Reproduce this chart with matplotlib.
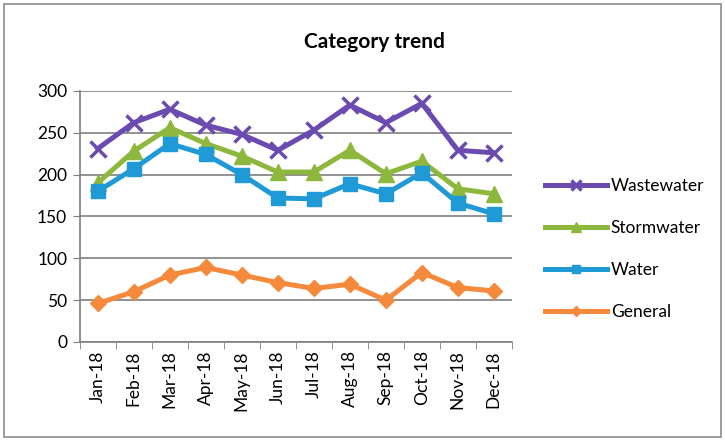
import numpy as np
import matplotlib.pyplot as plt
from matplotlib.patches import Rectangle

plt.rcParams['font.family'] = ['Lato', 'DejaVu Sans']

months = ["Jan-18", "Feb-18", "Mar-18", "Apr-18", "May-18", "Jun-18",
          "Jul-18", "Aug-18", "Sep-18", "Oct-18", "Nov-18", "Dec-18"]
wastewater = [231, 262, 278, 259, 248, 229, 253, 283, 262, 285, 229, 226]
stormwater = [190, 228, 256, 237, 222, 203, 203, 229, 201, 216, 183, 177]
water = [180, 207, 237, 224, 200, 172, 171, 189, 177, 202, 166, 153]
general = [46, 60, 80, 89, 80, 71, 64, 69, 50, 83, 65, 61]

series = [
    ("Wastewater", wastewater, "#6B4BAF", "x", 11),
    ("Stormwater", stormwater, "#8DB83D", "^", 11),
    ("Water", water, "#1F9AD7", "s", 10),
    ("General", general, "#F58A3C", "D", 8),
]

fig = plt.figure(figsize=(7.25, 4.41), dpi=100)
ax = fig.add_axes([0.110, 0.2245, 0.596, 0.5695])

x = np.arange(len(months)) + 0.5
for name, vals, color, marker, ms in series:
    ax.plot(x, vals, color=color, lw=3.6, marker=marker, ms=ms,
            mew=2.5 if marker == "x" else 1, mec=color, mfc=color, label=name)

ax.set_xlim(0, 12)
ax.set_ylim(0, 300)
ax.set_yticks(range(0, 301, 50))
ax.yaxis.grid(True, color="#7f7f7f", lw=1.2)
ax.set_axisbelow(True)

# labels at category centres, tick marks on the boundaries
ax.set_xticks(x)
ax.set_xticklabels(months, rotation=90, fontsize=12.5)
ax.set_xticks(np.arange(0, 13), minor=True)
ax.tick_params(axis="x", which="major", length=0, pad=6)
ax.tick_params(axis="x", which="minor", length=5, color="#7f7f7f")
ax.tick_params(axis="y", length=5, color="#7f7f7f", labelsize=12.5, pad=4)

for s in ["top", "right"]:
    ax.spines[s].set_visible(False)
for s in ["left", "bottom"]:
    ax.spines[s].set_color("#7f7f7f")
    ax.spines[s].set_linewidth(1.2)

fig.text(0.517, 0.905, "Category trend", ha="center", va="center",
         fontsize=15, fontweight="bold")

ax.legend(loc="center left", bbox_to_anchor=(0.73, 0.435),
          bbox_transform=fig.transFigure, frameon=False, fontsize=12.5,
          handlelength=3.6, labelspacing=1.5, handletextpad=0.2,
          markerscale=0.6)

fig.patches.append(Rectangle((0.006, 0.009), 0.988, 0.982, fill=False,
                             edgecolor="#8c8c8c", lw=1.2,
                             transform=fig.transFigure))

fig.savefig("out.png", dpi=100)
